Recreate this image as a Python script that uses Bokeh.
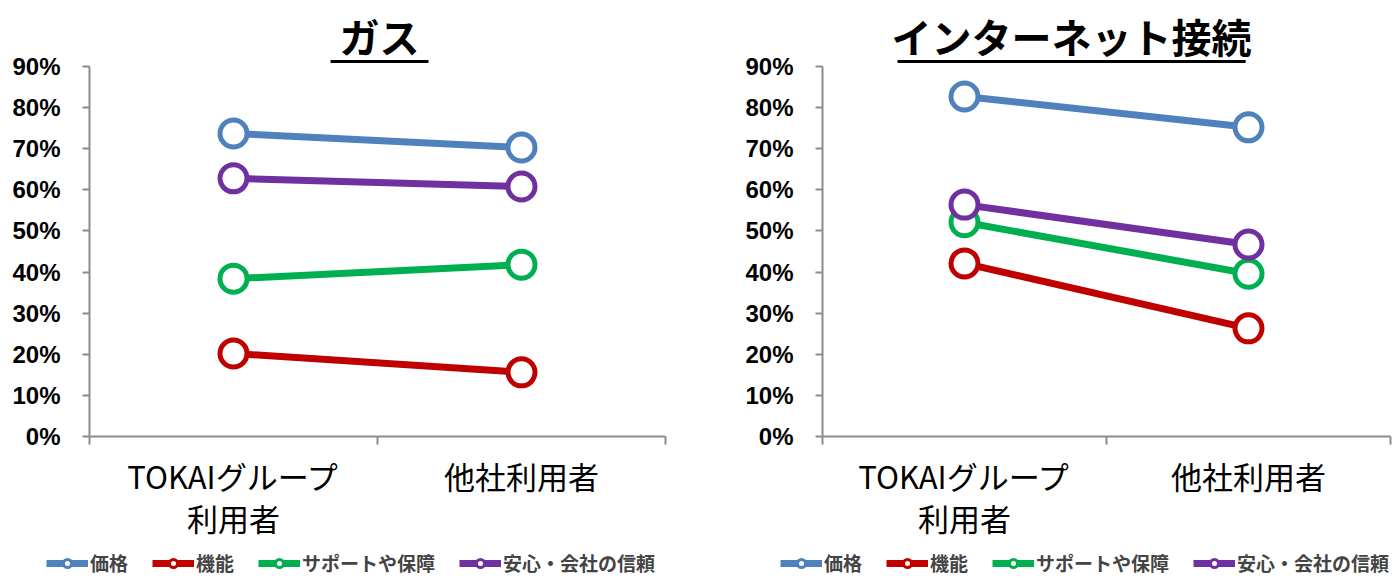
from bokeh.plotting import figure
from bokeh.models import (Range1d, FactorRange, LinearAxis, CategoricalAxis, FixedTicker,
                          Legend, LegendItem, ColumnDataSource, NumeralTickFormatter,
                          CustomJSTickFormatter)
from bokeh.layouts import row, column
from bokeh.embed import file_html
from bokeh.resources import INLINE
from bokeh.core.properties import value

# ---------------- data ----------------
groups = ["TOKAIグループ\n利用者", "他社利用者"]
series_names = ["価格", "機能", "サポートや保障", "安心・会社の信頼"]
series_colors = ["#4F81BD", "#C00000", "#00B050", "#7030A0"]

gas_price = [0.737, 0.703]
gas_function = [0.202, 0.156]
gas_support = [0.384, 0.418]
gas_trust = [0.628, 0.608]

net_price = [0.827, 0.752]
net_function = [0.421, 0.263]
net_support = [0.521, 0.396]
net_trust = [0.564, 0.467]

y_ticks = [0.0, 0.1, 0.2, 0.3, 0.4, 0.5, 0.6, 0.7, 0.8, 0.9]
titles = ["ガス", "インターネット接続"]

JP = "Noto Sans CJK JP"
AXIS_GRAY = "#8C8C8C"
LINE_W = 7
MARK_SIZE = 27
MARK_LW = 5


def make_chart(title, series, width, border_left, border_right, title_x, title_half):
    p = figure(width=width, height=548,
               x_range=FactorRange(*groups, range_padding=0, factor_padding=0),
               y_range=Range1d(0, 1.0605),
               x_axis_location=None, y_axis_location=None,
               output_backend="svg", toolbar_location=None,
               min_border_left=border_left, min_border_right=border_right,
               min_border_top=0, min_border_bottom=112,
               outline_line_color=None)
    p.xgrid.visible = False
    p.ygrid.visible = False

    # y axis
    yax = LinearAxis(ticker=FixedTicker(ticks=y_ticks),
                     formatter=NumeralTickFormatter(format="0%"),
                     bounds=(0, 0.9))
    yax.axis_line_color = AXIS_GRAY
    yax.axis_line_width = 2
    yax.major_tick_line_color = AXIS_GRAY
    yax.major_tick_line_width = 2
    yax.major_tick_in = 0
    yax.major_tick_out = 7
    yax.minor_tick_line_color = None
    yax.major_label_standoff = 22
    yax.major_label_text_font = "Liberation Sans"
    yax.major_label_text_font_size = "24px"
    yax.major_label_text_font_style = "bold"
    yax.major_label_text_color = "black"
    p.add_layout(yax, "left")

    # x axis line + ticks on the category boundaries (synthetic coords 0, 1, 2)
    eax = LinearAxis(ticker=FixedTicker(ticks=[0, 1, 2]),
                     formatter=CustomJSTickFormatter(code="return ''"))
    eax.axis_line_color = AXIS_GRAY
    eax.axis_line_width = 2
    eax.major_tick_line_color = AXIS_GRAY
    eax.major_tick_line_width = 2
    eax.major_tick_in = 0
    eax.major_tick_out = 8
    eax.minor_tick_line_color = None
    eax.major_label_standoff = 0
    eax.major_label_text_font_size = "1px"
    p.add_layout(eax, "below")

    # category labels
    cax = CategoricalAxis()
    cax.axis_line_color = None
    cax.major_tick_line_color = None
    cax.major_label_standoff = 2
    cax.major_label_text_font = JP
    cax.major_label_text_font_size = "31px"
    cax.major_label_text_line_height = 0.95
    cax.major_label_text_color = "black"
    p.add_layout(cax, "below")

    for color, vals in zip(series_colors, series):
        src = ColumnDataSource(dict(x=groups, y=vals))
        p.line("x", "y", source=src, line_color=color, line_width=LINE_W)
        p.scatter("x", "y", source=src, size=MARK_SIZE, marker="circle",
                  fill_color="white", line_color=color, line_width=MARK_LW)

    # title with underline
    tsrc = ColumnDataSource(dict(x=[title_x], y=[0.975], t=[title]))
    p.text("x", "y", text="t", source=tsrc,
           text_font=value(JP), text_font_size="40px", text_font_style="bold",
           text_align="center", text_baseline="middle", text_color="black")
    usrc = ColumnDataSource(dict(x0=[title_x - title_half], x1=[title_x + title_half],
                                 y=[0.912]))
    p.segment("x0", "y", "x1", "y", source=usrc,
              line_color="black", line_width=3)
    return p


def make_legend(width, left_offset):
    lf = figure(width=width, height=30, x_range=Range1d(0, 1), y_range=Range1d(0, 1),
                x_axis_location=None, y_axis_location=None,
                output_backend="svg", toolbar_location=None,
                min_border_left=0, min_border_right=0, min_border_top=0,
                min_border_bottom=0, outline_line_color=None)
    lf.xgrid.visible = False
    lf.ygrid.visible = False
    items = []
    for name, color in zip(series_names, series_colors):
        # legend-only renderers: a single undrawable (NaN) row so the legend glyph has styling
        blank = ColumnDataSource(dict(x=[float("nan")], y=[float("nan")]))
        lr = lf.line("x", "y", source=blank, line_color=color, line_width=LINE_W)
        sr = lf.scatter("x", "y", source=blank, marker="circle", size=10,
                        fill_color="white", line_color=color, line_width=3)
        items.append(LegendItem(label=name, renderers=[lr, sr]))
    legend = Legend(items=items, orientation="horizontal", location=(left_offset, 2),
                    label_text_font=JP, label_text_font_size="19px",
                    label_text_font_style="bold", label_standoff=2,
                    glyph_width=42, glyph_height=20, spacing=24,
                    padding=2, margin=0, border_line_color=None,
                    background_fill_alpha=0)
    lf.add_layout(legend)
    return lf


p1 = make_chart(titles[0], [gas_price, gas_function, gas_support, gas_trust],
                705, 89, 40, 1.007, 0.17)
p2 = make_chart(titles[1], [net_price, net_function, net_support, net_trust],
                691, 117, 6, 0.877, 0.613)
l1 = make_legend(705, 46)
l2 = make_legend(691, 75)

layout = column(row(p1, p2), row(l1, l2), spacing=0)
open("out.html", "w").write(file_html(layout, INLINE))
